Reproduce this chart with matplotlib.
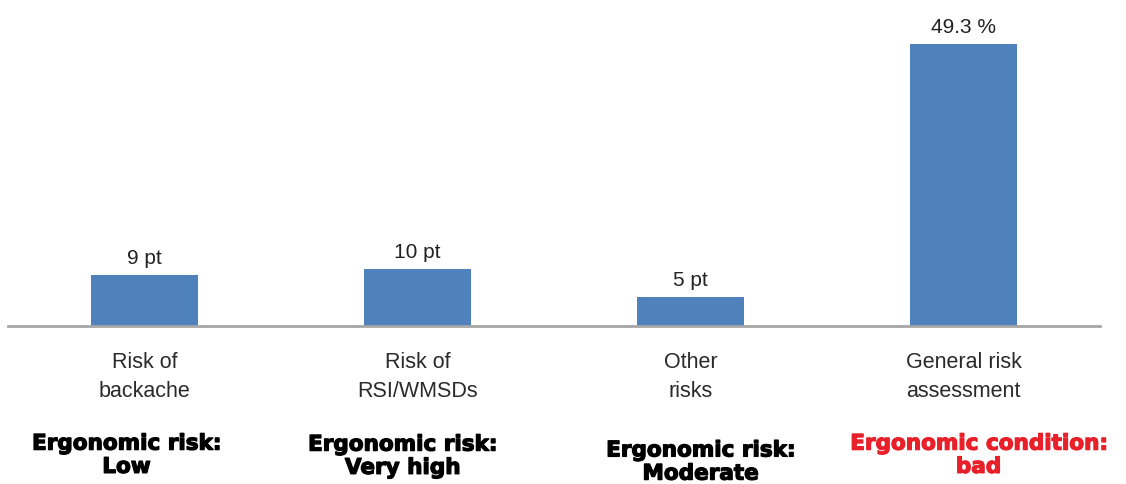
import matplotlib.pyplot as plt
import matplotlib.transforms as mtransforms
import matplotlib.patheffects as pe

# data
categories = ['Risk of\nbackache', 'Risk of\nRSI/WMSDs', 'Other\nrisks', 'General risk\nassessment']
values = [9, 10, 5, 49.3]
value_labels = ['9 pt', '10 pt', '5 pt', '49.3 %']
verdicts = ['Ergonomic risk:\nLow', 'Ergonomic risk:\nVery high',
            'Ergonomic risk:\nModerate', 'Ergonomic condition:\nbad']

# layout / style
verdict_colors = ['black', 'black', 'black', '#e8202a']
verdict_dx = [-0.066, -0.055, 0.037, 0.055]
verdict_y = [0.104, 0.102, 0.090, 0.104]
bar_color = '#4f81bd'

fig = plt.figure(figsize=(11.26, 4.84), dpi=100)
ax = fig.add_axes([8 / 1126, 158 / 484, 1092 / 1126, 326 / 484])

x = list(range(len(values)))
bars = ax.bar(x, values, width=0.39, color=bar_color, zorder=2)

for b, lab in zip(bars, value_labels):
    ax.annotate(lab, (b.get_x() + b.get_width() / 2, b.get_height()),
                xytext=(0, 5), textcoords='offset points', ha='center', va='bottom',
                fontsize=15, family='Liberation Sans', color='#222222')

ax.set_xlim(-0.5, 3.5)
ax.set_ylim(0, 57)
ax.set_yticks([])
ax.set_xticks(x)
ax.set_xticklabels(categories, fontsize=15.5, family='Liberation Sans',
                   linespacing=1.45, color='#2a2a2a')
ax.tick_params(axis='x', length=0, pad=19)

for s in ['top', 'right', 'left']:
    ax.spines[s].set_visible(False)
ax.spines['bottom'].set_color('#a6a6a6')
ax.spines['bottom'].set_linewidth(2)

trans = mtransforms.blended_transform_factory(ax.transData, fig.transFigure)
for i, txt in enumerate(verdicts):
    ax.text(x[i] + verdict_dx[i], verdict_y[i], txt, transform=trans,
            ha='center', va='top', fontsize=15.5, fontweight='bold',
            family='DejaVu Sans', color=verdict_colors[i], linespacing=1.2,
            multialignment='center',
            path_effects=[pe.withStroke(linewidth=0.9, foreground=verdict_colors[i])])

fig.savefig('out.png', dpi=100)
